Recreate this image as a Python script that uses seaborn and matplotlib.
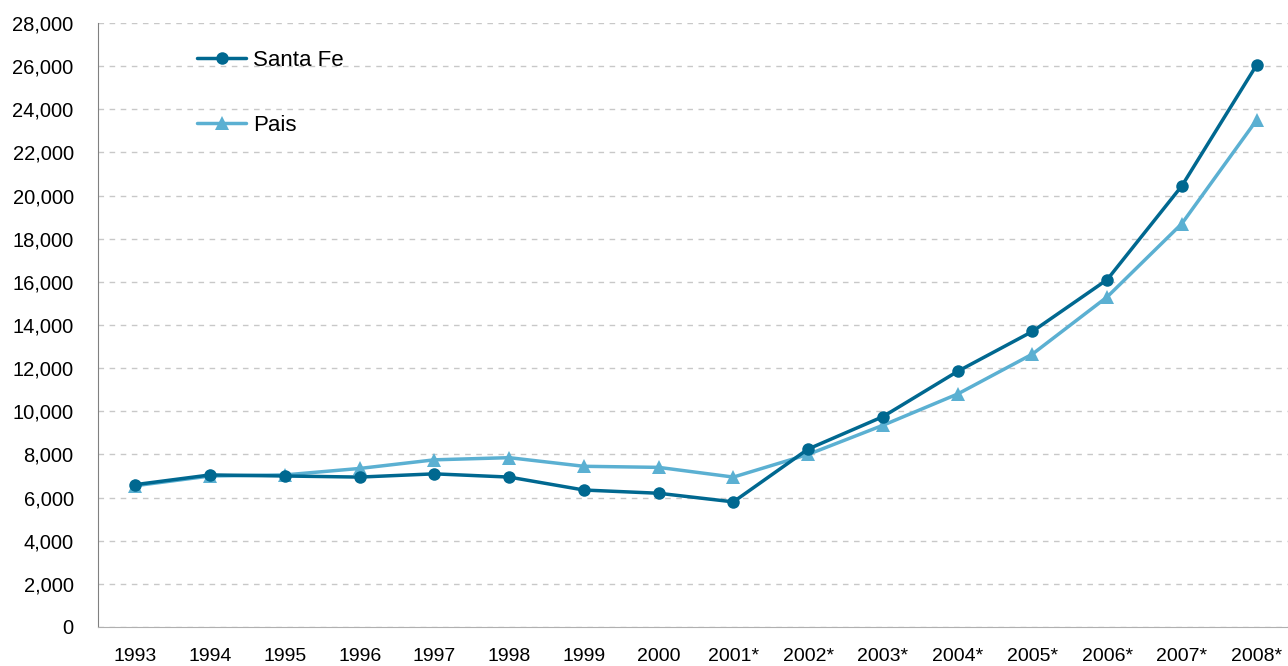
import pandas as pd
import numpy as np
import matplotlib
matplotlib.use("Agg")
import matplotlib.pyplot as plt
import seaborn as sns
from matplotlib.ticker import FuncFormatter, FixedLocator

years = ["1993", "1994", "1995", "1996", "1997", "1998", "1999", "2000",
         "2001*", "2002*", "2003*", "2004*", "2005*", "2006*", "2007*", "2008*"]
santa_fe = [6600, 7050, 7000, 6950, 7100, 6950, 6350, 6200,
            5800, 8250, 9750, 11850, 13700, 16100, 20450, 26050]
pais = [6550, 7000, 7050, 7350, 7750, 7850, 7450, 7400,
        6950, 8000, 9350, 10800, 12650, 15300, 18700, 23500]

df = pd.DataFrame({
    "year": years * 2,
    "value": santa_fe + pais,
    "serie": ["Santa Fe"] * len(years) + ["Pais"] * len(years),
})

sns.set_style("white")
plt.rcParams['font.family'] = ['Liberation Sans', 'DejaVu Sans']

fig = plt.figure(figsize=(12.88, 6.66), dpi=100)
ax = fig.add_axes([98 / 1288, 1 - 627 / 666, 1196 / 1288, (627 - 23) / 666])

colors = {"Santa Fe": "#006890", "Pais": "#5BB0D2"}
# Pais first so Santa Fe sits on top
for name, mk, ms in [("Pais", "^", 9.5), ("Santa Fe", "o", 9)]:
    sub = df[df["serie"] == name]
    sns.lineplot(data=sub, x="year", y="value", ax=ax, color=colors[name],
                 marker=mk, markersize=ms, markeredgewidth=0, linewidth=2.5,
                 sort=False, label=name)

ax.set_xlim(-0.5, len(years) - 0.5)
ax.set_ylim(0, 28000)
ax.set_yticks(np.arange(0, 28001, 2000))
ax.yaxis.set_major_formatter(FuncFormatter(lambda v, p: f"{int(v):,}"))
ax.set_xticks(range(len(years)))
ax.set_xticklabels(years)
ax.xaxis.set_minor_locator(FixedLocator(np.arange(-0.5, len(years), 1)))
ax.tick_params(axis="x", which="major", length=0, pad=15, labelsize=14,
               labelcolor="black")
ax.tick_params(axis="x", which="minor", length=6, width=1, color="#a0a0a0", direction="out")
ax.tick_params(axis="y", length=9, width=1, color="#808080", direction="inout",
               labelsize=14.5, pad=13, labelcolor="black")
ax.set_xlabel("")
ax.set_ylabel("")

ax.grid(axis="y", color="#c8c8c8", linestyle=(0, (4, 4)), linewidth=1)
ax.set_axisbelow(True)
for s in ["top", "right"]:
    ax.spines[s].set_visible(False)
ax.spines["left"].set_color("#808080")
ax.spines["bottom"].set_color("#b0b0b0")

handles, labels = ax.get_legend_handles_labels()
order = [labels.index("Santa Fe"), labels.index("Pais")]
leg = ax.legend([handles[i] for i in order], [labels[i] for i in order],
                loc="upper left", bbox_to_anchor=(0.083, 0.955), frameon=False,
                fontsize=16, handlelength=2.2, labelspacing=1.95, borderpad=0,
                borderaxespad=0, handletextpad=0.3)
for t in leg.get_texts():
    t.set_color("black")

fig.savefig("out.png", dpi=100)
